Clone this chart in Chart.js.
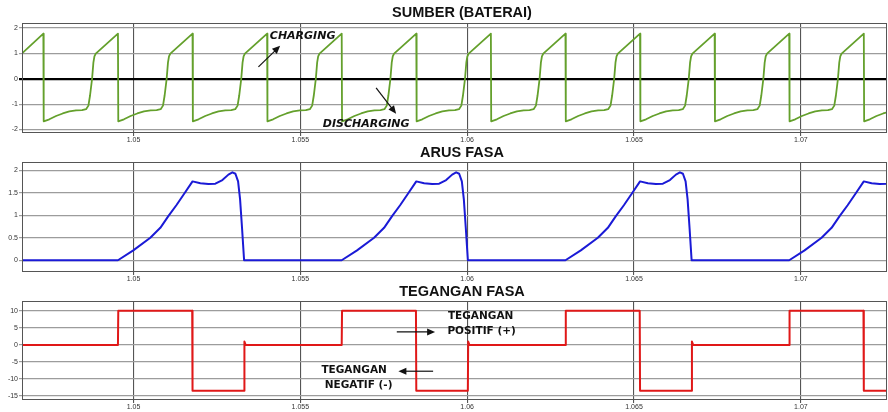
<!DOCTYPE html>
<html>
<head>
<meta charset="utf-8" />
<title>Sumber, Arus Fasa, Tegangan Fasa</title>
<script src="https://cdn.jsdelivr.net/npm/chart.js"></script>
<style>
  body { margin: 0; background: #fff; width: 888px; height: 412px; overflow: hidden; position: relative; }
  canvas { position: absolute; left: 0; }
</style>
</head>
<body>
<canvas id="c1" width="888" height="146" style="top:0px"></canvas>
<canvas id="c2" width="888" height="145" style="top:140px"></canvas>
<canvas id="c3" width="888" height="132" style="top:280px"></canvas>
<script>
// time axis (s)
const xMin = 1.04666, xMax = 1.07258;
const xTicks = [1.05, 1.055, 1.06, 1.065, 1.07];
const xTickLabels = ['1.05', '1.055', '1.06', '1.065', '1.07'];

// SUMBER (BATERAI), one row per cycle
const sumberTime = [
  1.04666,
  1.047300, 1.047310, 1.047480, 1.047680, 1.047880, 1.048080, 1.048280, 1.048460, 1.048580, 1.048650, 1.048700, 1.048760, 1.048800, 1.048830, 1.048870,
  1.049535, 1.049545, 1.049715, 1.049915, 1.050115, 1.050315, 1.050515, 1.050695, 1.050815, 1.050885, 1.050935, 1.050995, 1.051035, 1.051065, 1.051105,
  1.051770, 1.051780, 1.051950, 1.052150, 1.052350, 1.052550, 1.052750, 1.052930, 1.053050, 1.053120, 1.053170, 1.053230, 1.053270, 1.053300, 1.053340,
  1.054005, 1.054015, 1.054185, 1.054385, 1.054585, 1.054785, 1.054985, 1.055165, 1.055285, 1.055355, 1.055405, 1.055465, 1.055505, 1.055535, 1.055575,
  1.056240, 1.056250, 1.056420, 1.056620, 1.056820, 1.057020, 1.057220, 1.057400, 1.057520, 1.057590, 1.057640, 1.057700, 1.057740, 1.057770, 1.057810,
  1.058475, 1.058485, 1.058655, 1.058855, 1.059055, 1.059255, 1.059455, 1.059635, 1.059755, 1.059825, 1.059875, 1.059935, 1.059975, 1.060005, 1.060045,
  1.060710, 1.060720, 1.060890, 1.061090, 1.061290, 1.061490, 1.061690, 1.061870, 1.061990, 1.062060, 1.062110, 1.062170, 1.062210, 1.062240, 1.062280,
  1.062945, 1.062955, 1.063125, 1.063325, 1.063525, 1.063725, 1.063925, 1.064105, 1.064225, 1.064295, 1.064345, 1.064405, 1.064445, 1.064475, 1.064515,
  1.065180, 1.065190, 1.065360, 1.065560, 1.065760, 1.065960, 1.066160, 1.066340, 1.066460, 1.066530, 1.066580, 1.066640, 1.066680, 1.066710, 1.066750,
  1.067415, 1.067425, 1.067595, 1.067795, 1.067995, 1.068195, 1.068395, 1.068575, 1.068695, 1.068765, 1.068815, 1.068875, 1.068915, 1.068945, 1.068985,
  1.069650, 1.069660, 1.069830, 1.070030, 1.070230, 1.070430, 1.070630, 1.070810, 1.070930, 1.071000, 1.071050, 1.071110, 1.071150, 1.071180, 1.071220,
  1.071885, 1.071895, 1.072065, 1.072265, 1.072465, 1.072665
];
const sumberVolt = [
  1.00,
  1.78, -1.68, -1.60, -1.47, -1.37, -1.29, -1.25, -1.24, -1.20, -1.06, -0.65, 0.00, 0.65, 0.88, 0.99,
  1.78, -1.68, -1.60, -1.47, -1.37, -1.29, -1.25, -1.24, -1.20, -1.06, -0.65, 0.00, 0.65, 0.88, 0.99,
  1.78, -1.68, -1.60, -1.47, -1.37, -1.29, -1.25, -1.24, -1.20, -1.06, -0.65, 0.00, 0.65, 0.88, 0.99,
  1.78, -1.68, -1.60, -1.47, -1.37, -1.29, -1.25, -1.24, -1.20, -1.06, -0.65, 0.00, 0.65, 0.88, 0.99,
  1.78, -1.68, -1.60, -1.47, -1.37, -1.29, -1.25, -1.24, -1.20, -1.06, -0.65, 0.00, 0.65, 0.88, 0.99,
  1.78, -1.68, -1.60, -1.47, -1.37, -1.29, -1.25, -1.24, -1.20, -1.06, -0.65, 0.00, 0.65, 0.88, 0.99,
  1.78, -1.68, -1.60, -1.47, -1.37, -1.29, -1.25, -1.24, -1.20, -1.06, -0.65, 0.00, 0.65, 0.88, 0.99,
  1.78, -1.68, -1.60, -1.47, -1.37, -1.29, -1.25, -1.24, -1.20, -1.06, -0.65, 0.00, 0.65, 0.88, 0.99,
  1.78, -1.68, -1.60, -1.47, -1.37, -1.29, -1.25, -1.24, -1.20, -1.06, -0.65, 0.00, 0.65, 0.88, 0.99,
  1.78, -1.68, -1.60, -1.47, -1.37, -1.29, -1.25, -1.24, -1.20, -1.06, -0.65, 0.00, 0.65, 0.88, 0.99,
  1.78, -1.68, -1.60, -1.47, -1.37, -1.29, -1.25, -1.24, -1.20, -1.06, -0.65, 0.00, 0.65, 0.88, 0.99,
  1.78, -1.68, -1.60, -1.47, -1.37, -1.29
];

// ARUS FASA - one row per pulse
const arusTime = [
  1.04666,
  1.049535, 1.049995, 1.050505, 1.050805, 1.051045, 1.051285, 1.051525, 1.051770, 1.052005, 1.052245, 1.052455, 1.052665, 1.052845, 1.052965, 1.053055, 1.053135, 1.053195, 1.053255, 1.053315,
  1.056240, 1.056700, 1.057210, 1.057510, 1.057750, 1.057990, 1.058230, 1.058475, 1.058710, 1.058950, 1.059160, 1.059370, 1.059550, 1.059670, 1.059760, 1.059840, 1.059900, 1.059960, 1.060020,
  1.062945, 1.063405, 1.063915, 1.064215, 1.064455, 1.064695, 1.064935, 1.065180, 1.065415, 1.065655, 1.065865, 1.066075, 1.066255, 1.066375, 1.066465, 1.066545, 1.066605, 1.066665, 1.066725,
  1.069650, 1.070110, 1.070620, 1.070920, 1.071160, 1.071400, 1.071640, 1.071885, 1.072120, 1.072360, 1.072570, 1.072780
];
const arusAmp = [
  0,
  0, 0.22, 0.50, 0.72, 0.98, 1.22, 1.48, 1.75, 1.71, 1.69, 1.70, 1.78, 1.90, 1.95, 1.92, 1.75, 1.35, 0.70, 0,
  0, 0.22, 0.50, 0.72, 0.98, 1.22, 1.48, 1.75, 1.71, 1.69, 1.70, 1.78, 1.90, 1.95, 1.92, 1.75, 1.35, 0.70, 0,
  0, 0.22, 0.50, 0.72, 0.98, 1.22, 1.48, 1.75, 1.71, 1.69, 1.70, 1.78, 1.90, 1.95, 1.92, 1.75, 1.35, 0.70, 0,
  0, 0.22, 0.50, 0.72, 0.98, 1.22, 1.48, 1.75, 1.71, 1.69, 1.70, 1.78
];

// TEGANGAN FASA - step levels
const teganganTime = [
  1.04666,
  1.049535, 1.049545, 1.051760, 1.051770, 1.053315, 1.053325, 1.053360,
  1.056240, 1.056250, 1.058465, 1.058475, 1.060020, 1.060030, 1.060065,
  1.062945, 1.062955, 1.065170, 1.065180, 1.066725, 1.066735, 1.066770,
  1.069650, 1.069660, 1.071875, 1.071885, 1.07258
];
const teganganVolt = [
  0,
  0, 10, 10, -13.5, -13.5, 1.0, 0,
  0, 10, 10, -13.5, -13.5, 1.0, 0,
  0, 10, 10, -13.5, -13.5, 1.0, 0,
  0, 10, 10, -13.5, -13.5
];

// y ticks per panel
const sumberTicks = [-2, -1, 0, 1, 2];
const arusTicks = [0, 0.5, 1, 1.5, 2];
const teganganTicks = [-15, -10, -5, 0, 5, 10];

// annotation texts and arrows, in data coordinates
const sumberNotes = [
  { text: 'CHARGING', t: 1.055069, v: 1.69 },
  { text: 'DISCHARGING', t: 1.056972, v: -1.78 }
];
const sumberArrows = [
  { t0: 1.053745, v0: 0.47, t1: 1.054395, v1: 1.30 },
  { t0: 1.057271, v0: -0.36, t1: 1.057870, v1: -1.38 }
];
const teganganNotes = [
  { text: 'TEGANGAN', t: 1.060402, v: 8.43 },
  { text: 'POSITIF (+)', t: 1.060432, v: 4.01 },
  { text: 'TEGANGAN', t: 1.056612, v: -7.6 },
  { text: 'NEGATIF (-)', t: 1.056747, v: -11.86 }
];
const teganganArrows = [
  { t0: 1.057891, v0: 3.81, t1: 1.059039, v1: 3.81 },
  { t0: 1.058979, v0: -7.74, t1: 1.057939, v1: -7.74 }
];

const pts = (ts, vs) => ts.map((t, i) => ({ x: t, y: vs[i] }));

const panelDeco = {
  id: 'panelDeco',
  afterDraw(chart, args, o) {
    const { ctx, chartArea: a, scales } = chart;
    ctx.save();
    ctx.strokeStyle = '#555';
    ctx.lineWidth = 1;
    ctx.strokeRect(a.left + 0.5, a.top + 0.5, a.right - a.left - 1, a.bottom - a.top - 1);

    ctx.fillStyle = '#111';
    ctx.textAlign = 'center';
    ctx.textBaseline = 'middle';
    ctx.font = 'bold 14.5px "Liberation Sans", Arial, sans-serif';
    ctx.fillText(o.title, 462, o.titleY);

    ctx.font = o.noteFont;
    (o.notes || []).forEach(n => {
      ctx.fillText(n.text, scales.x.getPixelForValue(n.t), scales.y.getPixelForValue(n.v));
    });

    ctx.strokeStyle = '#111';
    ctx.lineWidth = 1.2;
    (o.arrows || []).forEach(r => {
      const x0 = scales.x.getPixelForValue(r.t0), y0 = scales.y.getPixelForValue(r.v0);
      const x1 = scales.x.getPixelForValue(r.t1), y1 = scales.y.getPixelForValue(r.v1);
      const ang = Math.atan2(y1 - y0, x1 - x0);
      ctx.beginPath();
      ctx.moveTo(x0, y0);
      ctx.lineTo(x1 - 4 * Math.cos(ang), y1 - 4 * Math.sin(ang));
      ctx.stroke();
      ctx.beginPath();
      ctx.moveTo(x1, y1);
      ctx.lineTo(x1 - 8 * Math.cos(ang) + 3.5 * Math.sin(ang), y1 - 8 * Math.sin(ang) - 3.5 * Math.cos(ang));
      ctx.lineTo(x1 - 8 * Math.cos(ang) - 3.5 * Math.sin(ang), y1 - 8 * Math.sin(ang) + 3.5 * Math.cos(ang));
      ctx.closePath();
      ctx.fill();
    });
    ctx.restore();
  }
};

function makePanel(id, cfg) {
  return new Chart(document.getElementById(id), {
    type: 'line',
    data: {
      datasets: [{
        data: cfg.data,
        borderColor: cfg.color,
        borderWidth: cfg.width,
        borderJoinStyle: 'round',
        pointRadius: 0,
        tension: 0,
        fill: false
      }]
    },
    options: {
      responsive: false,
      animation: false,
      devicePixelRatio: 1,
      layout: { padding: { top: cfg.padTop, right: 1, left: 0, bottom: 0 } },
      plugins: {
        legend: { display: false },
        tooltip: { enabled: false },
        panelDeco: {
          title: cfg.title,
          titleY: cfg.titleY,
          notes: cfg.notes,
          arrows: cfg.arrows,
          noteFont: cfg.noteFont
        }
      },
      scales: {
        x: {
          type: 'linear',
          min: xMin,
          max: xMax,
          afterBuildTicks: s => { s.ticks = xTicks.map(v => ({ value: v })); },
          afterFit: s => { s.height = cfg.xHeight; },
          border: { display: false },
          grid: { color: '#555', lineWidth: 1.1, tickLength: 3 },
          ticks: {
            autoSkip: false,
            maxRotation: 0,
            padding: 0,
            color: '#333',
            font: { family: '"Liberation Sans", Arial, sans-serif', size: 7 },
            callback: (v, i) => xTickLabels[i]
          }
        },
        y: {
          min: cfg.yMin,
          max: cfg.yMax,
          afterBuildTicks: s => { s.ticks = cfg.yTicks.map(v => ({ value: v })); },
          afterFit: s => { s.width = 22; },
          border: { display: false },
          grid: {
            tickLength: 3,
            color: c => (cfg.boldZero && c.tick && c.tick.value === 0) ? '#000' : '#9c9c9c',
            lineWidth: c => (cfg.boldZero && c.tick && c.tick.value === 0) ? 2.2 : 1.2
          },
          ticks: {
            padding: 1,
            color: '#333',
            font: { family: '"Liberation Sans", Arial, sans-serif', size: 7 },
            callback: v => String(v)
          }
        }
      }
    },
    plugins: [panelDeco]
  });
}

makePanel('c1', {
  data: pts(sumberTime, sumberVolt),
  color: '#64a02c', width: 1.8,
  yMin: -2.14, yMax: 2.2, yTicks: sumberTicks, boldZero: true,
  padTop: 23, xHeight: 13,
  title: 'SUMBER (BATERAI)', titleY: 13,
  notes: sumberNotes, arrows: sumberArrows,
  noteFont: 'italic bold 11px "DejaVu Sans", Verdana, sans-serif'
});

makePanel('c2', {
  data: pts(arusTime, arusAmp),
  color: '#1a1ad6', width: 2,
  yMin: -0.26, yMax: 2.18, yTicks: arusTicks, boldZero: false,
  padTop: 22, xHeight: 13,
  title: 'ARUS FASA', titleY: 13
});

makePanel('c3', {
  data: pts(teganganTime, teganganVolt),
  color: '#e01818', width: 2,
  yMin: -16.2, yMax: 12.9, yTicks: teganganTicks, boldZero: false,
  padTop: 21, xHeight: 12,
  title: 'TEGANGAN FASA', titleY: 11.5,
  notes: teganganNotes, arrows: teganganArrows,
  noteFont: 'bold 10.5px "DejaVu Sans", Verdana, sans-serif'
});
</script>
</body>
</html>
